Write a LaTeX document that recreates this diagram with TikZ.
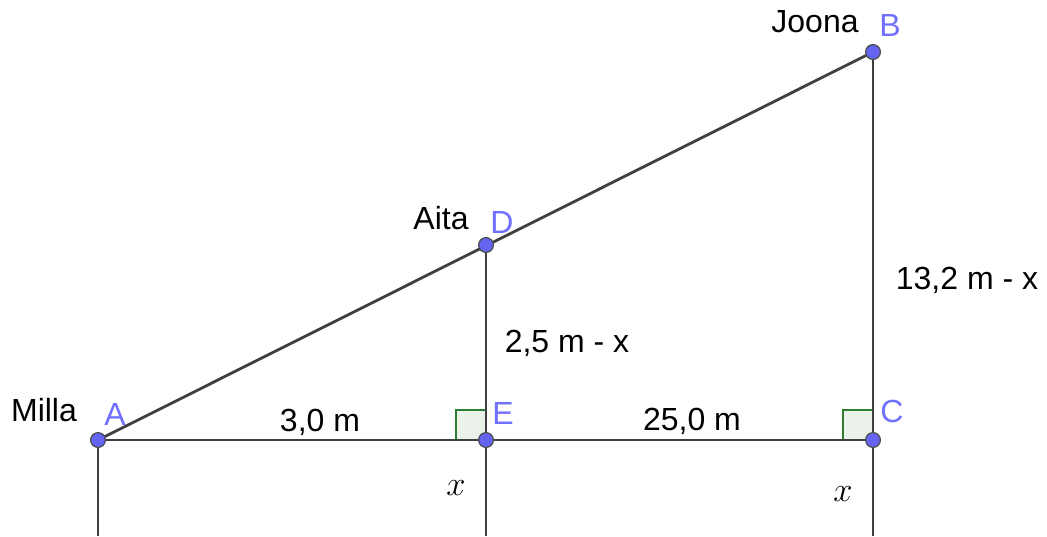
\documentclass[tikz,border=0pt]{standalone}
\usepackage{fontspec}
\setmainfont{Liberation Sans}
\definecolor{lineg}{HTML}{3F3F3F}
\definecolor{ptblue}{HTML}{6464F0}
\definecolor{lblblue}{HTML}{7070FF}
\definecolor{angg}{HTML}{2E7D32}
\tikzset{
  seg/.style={draw=lineg, line width=1.4pt},
  pt/.style={circle, fill=ptblue, draw=black!70, line width=0.6pt, inner sep=0pt, minimum size=7.4pt},
  ptlbl/.style={text=lblblue, font=\fontsize{16}{18}\selectfont, inner sep=0pt},
  lbl/.style={font=\fontsize{16}{18}\selectfont, inner sep=0pt},
  rangle/.style={draw=angg, fill=angg!10, line width=1.1pt}
}
\begin{document}
\begin{tikzpicture}[x=0.5pt, y=-0.5pt]
  \useasboundingbox (0,0) rectangle (1047,536);
  \coordinate (A) at (98,440);
  \coordinate (E) at (486,440);
  \coordinate (C) at (873,440);
  \coordinate (D) at (486,245);
  \coordinate (B) at (873,52);
  \coordinate (A0) at (98,536);
  \coordinate (E0) at (486,536);
  \coordinate (C0) at (873,536);
  \draw[rangle] (E) rectangle ++(-30,-30);
  \draw[rangle] (C) rectangle ++(-30,-30);
  \draw[seg] (A) -- (B);
  \draw[seg] (A) -- (C);
  \draw[seg] (D) -- (E0);
  \draw[seg] (B) -- (C0);
  \draw[seg] (A) -- (A0);
  \node[pt] (pA) at (A) {};
  \node[pt] (pE) at (E) {};
  \node[pt] (pC) at (C) {};
  \node[pt] (pD) at (D) {};
  \node[pt] (pB) at (B) {};
  \node[ptlbl] (lA) at (115,414) {A};
  \node[ptlbl] (lE) at (503,413) {E};
  \node[ptlbl] (lC) at (892,411) {C};
  \node[ptlbl] (lD) at (502,222) {D};
  \node[ptlbl] (lB) at (890,25) {B};
  \node[lbl] (milla) at (44,410) {Milla};
  \node[lbl] (aita) at (441,218) {Aita};
  \node[lbl] (joona) at (815,22) {Joona};
  \node[lbl] (ae) at (320,422) {3,0 m};
  \node[lbl] (ec) at (692,421) {25,0 m};
  \node[lbl] (de) at (567,343) {2,5 m - x};
  \node[lbl] (bc) at (967,280) {13,2 m - x};
  \node[lbl] (xe) at (456,488) {$x$};
  \node[lbl] (xc) at (843,494) {$x$};
\end{tikzpicture}
\end{document}
